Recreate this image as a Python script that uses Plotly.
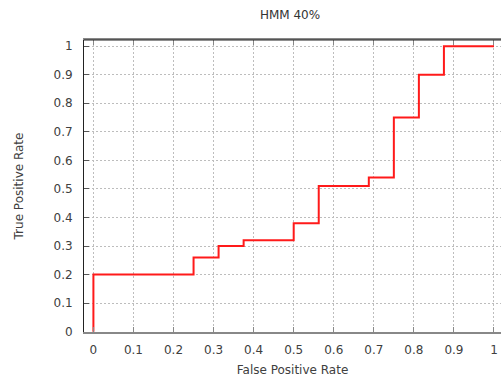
import plotly.graph_objects as go

fpr = [0.0, 0.0, 0.25, 0.25, 0.3125, 0.3125, 0.375, 0.375, 0.5, 0.5, 0.5625, 0.5625,
       0.6875, 0.6875, 0.75, 0.75, 0.8125, 0.8125, 0.875, 0.875, 1.0]
tpr = [0.0, 0.2, 0.2, 0.26, 0.26, 0.30, 0.30, 0.32, 0.32, 0.38, 0.38, 0.51,
       0.51, 0.54, 0.54, 0.75, 0.75, 0.90, 0.90, 1.0, 1.0]
x_ticks = [0, 0.1, 0.2, 0.3, 0.4, 0.5, 0.6, 0.7, 0.8, 0.9, 1]
x_tick_labels = ["0", "0.1", "0.2", "0.3", "0.4", "0.5", "0.6", "0.7", "0.8", "0.9", "1"]
y_ticks = [0, 0.1, 0.2, 0.3, 0.4, 0.5, 0.6, 0.7, 0.8, 0.9, 1]
y_tick_labels = ["0", "0.1", "0.2", "0.3", "0.4", "0.5", "0.6", "0.7", "0.8", "0.9", "1"]

FONT = "DejaVu Sans"
W, H = 501, 381

fig = go.Figure()
fig.add_trace(go.Scatter(x=fpr, y=tpr, mode="lines",
                         line=dict(color="#ff1a1a", width=2), showlegend=False,
                         cliponaxis=False))

fig.update_layout(
    width=W, height=H,
    margin=dict(l=84, r=0, t=40, b=49, autoexpand=False),
    paper_bgcolor="white", plot_bgcolor="white",
    font=dict(family=FONT, size=12, color="#404040"),
    title=dict(text="HMM 40%", x=290 / W, xanchor="center", y=1 - 15 / H, yanchor="middle",
               font=dict(family=FONT, size=12, color="#333333")),
    xaxis=dict(range=[-0.0235, 1.0175], tickvals=x_ticks, ticktext=x_tick_labels,
               automargin=False,
               showgrid=True, gridcolor="#bdbdbd", griddash="2px,2px", gridwidth=1,
               zeroline=False, showline=True, linecolor="#888888", linewidth=1.5,
               mirror="allticks", ticks="inside", ticklen=5, tickcolor="#888888",
               ticklabelstandoff=6, ticklabeloverflow="allow",
               tickfont=dict(size=12, color="#404040"),
               title=dict(text="False Positive Rate", standoff=9,
                          font=dict(size=12, color="#404040"))),
    yaxis=dict(range=[-0.001, 1.0215], tickvals=y_ticks, ticktext=y_tick_labels,
               automargin=False,
               showgrid=True, gridcolor="#bdbdbd", griddash="2px,2px", gridwidth=1,
               zeroline=False, showline=True, linecolor="#222222", linewidth=1,
               ticks="inside", ticklen=5, tickcolor="#555555",
               ticklabelstandoff=8,
               tickfont=dict(size=12, color="#404040"),
               title=dict(text="True Positive Rate", standoff=27,
                          font=dict(size=12, color="#404040"))),
)
fig.add_shape(type="line", xref="paper", yref="paper", x0=0, x1=1, y0=1, y1=1,
              line=dict(color="#222222", width=1))

fig.write_html(
    "out.html",
    config={"displayModeBar": False},
    post_script=(
        "document.documentElement.style.margin='0';"
        "document.documentElement.style.overflow='hidden';"
        "document.body.style.margin='0';"
        "document.body.style.overflow='hidden';"
    ),
)
